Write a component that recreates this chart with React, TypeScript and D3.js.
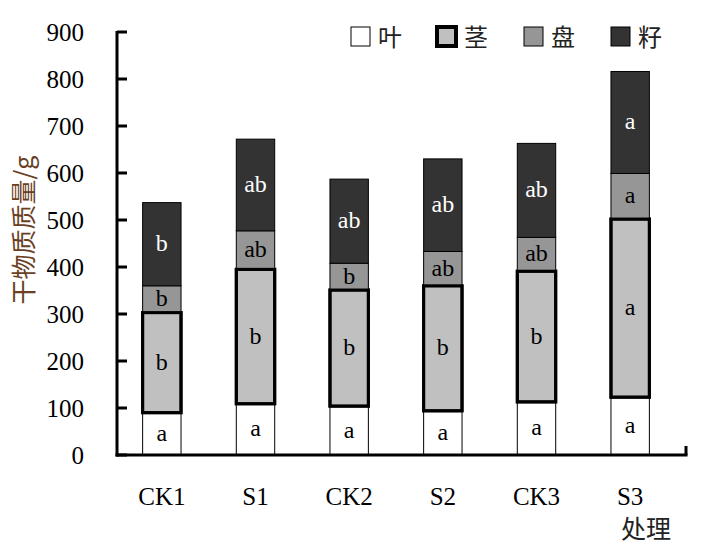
import React from "react";
import * as d3 from "d3";

const categories = ["CK1", "S1", "CK2", "S2", "CK3", "S3"];
const seriesNames = ["叶", "茎", "盘", "籽"];
const leaf = [90, 109, 104, 94, 113, 123];
const stem = [213, 286, 247, 266, 278, 379];
const disc = [57, 82, 57, 73, 72, 97];
const seed = [177, 195, 179, 197, 200, 217];
const leafLetters = ["a", "a", "a", "a", "a", "a"];
const stemLetters = ["b", "b", "b", "b", "b", "a"];
const discLetters = ["b", "ab", "b", "ab", "ab", "a"];
const seedLetters = ["b", "ab", "ab", "ab", "ab", "a"];
const yTicks = [0, 100, 200, 300, 400, 500, 600, 700, 800, 900];

const fills = ["#ffffff", "#c0c0c0", "#969696", "#333333"];
const strokeW = [1, 3, 1, 1];
const textColors = ["#000", "#000", "#000", "#fff"];

export default function App() {
  const W = 704, H = 550;
  const x0 = 117, xEnd = 686, y0 = 455;
  const x = d3.scaleBand<string>().domain(categories).range([115, 677]).paddingInner(0.59).paddingOuter(0.295);
  const y = d3.scaleLinear().domain([0, 900]).range([y0, 32]);
  const letters = [leafLetters, stemLetters, discLetters, seedLetters];
  const rows = categories.map((c, i) => ({ cat: c, 0: leaf[i], 1: stem[i], 2: disc[i], 3: seed[i] }));
  const stacked = d3.stack<any>().keys([0, 1, 2, 3] as any)(rows as any);
  const serif = { fontFamily: "Liberation Serif, Tinos, Times New Roman, serif" };
  const cjk = { fontFamily: "Noto Sans CJK SC, sans-serif" };
  const legendX = [351, 437, 524, 611];

  return (
    <svg width={W} height={H} style={{ position: "absolute", left: 0, top: 0 }}>
      <rect width={W} height={H} fill="#fff" />
      {stacked.map((layer, si) =>
        layer.map((d, i) => {
          const xx = x(categories[i])!;
          const bw = x.bandwidth();
          const top = y(d[1]);
          const bot = y(d[0]);
          const cy = (top + bot) / 2;
          return (
            <g key={`${si}-${i}`}>
              <rect x={xx} y={top} width={bw} height={bot - top} fill={fills[si]} stroke="#000" strokeWidth={strokeW[si]} />
              <text x={xx + bw / 2} y={cy + 7} textAnchor="middle" style={serif} fontSize={24} fill={textColors[si]}>
                {letters[si][i]}
              </text>
            </g>
          );
        })
      )}
      {stacked[1].map((d, i) => (
        <rect key={`s${i}`} x={x(categories[i])!} y={y(d[1])} width={x.bandwidth()} height={y(d[0]) - y(d[1])} fill="none" stroke="#000" strokeWidth={3} />
      ))}
      <line x1={x0} x2={x0} y1={y(900) - 1} y2={y0 + 1.5} stroke="#000" strokeWidth={3} />
      <line x1={x0 - 1.5} x2={xEnd + 1.5} y1={y0} y2={y0} stroke="#000" strokeWidth={3} />
      <line x1={xEnd} x2={xEnd} y1={y0} y2={y0 - 9} stroke="#000" strokeWidth={3} />
      {yTicks.map((t) => (
        <g key={t}>
          <line x1={x0} x2={x0 + 10} y1={y(t)} y2={y(t)} stroke="#000" strokeWidth={3} />
          <text x={84} y={y(t) + 8.5} textAnchor="end" style={serif} fontSize={25} fill="#000">
            {t}
          </text>
        </g>
      ))}
      {categories.map((c) => (
        <text key={c} x={x(c)! + x.bandwidth() / 2} y={505} textAnchor="middle" style={serif} fontSize={25} fill="#000">
          {c}
        </text>
      ))}
      <text x={646} y={538} textAnchor="middle" style={cjk} fontSize={25} fill="#222">处理</text>
      <text transform={`translate(33,230) rotate(-90)`} textAnchor="middle" style={cjk} fontSize={25} fill="#6a3f25">
        干物质质量/g
      </text>
      {seriesNames.map((n, i) => (
        <g key={n}>
          <rect x={legendX[i]} y={27} width={19} height={19} fill={fills[i]} stroke="#000" strokeWidth={i === 1 ? 4 : 1} />
          <text x={legendX[i] + 27} y={46} style={cjk} fontSize={24} fill="#222">{n}</text>
        </g>
      ))}
    </svg>
  );
}
